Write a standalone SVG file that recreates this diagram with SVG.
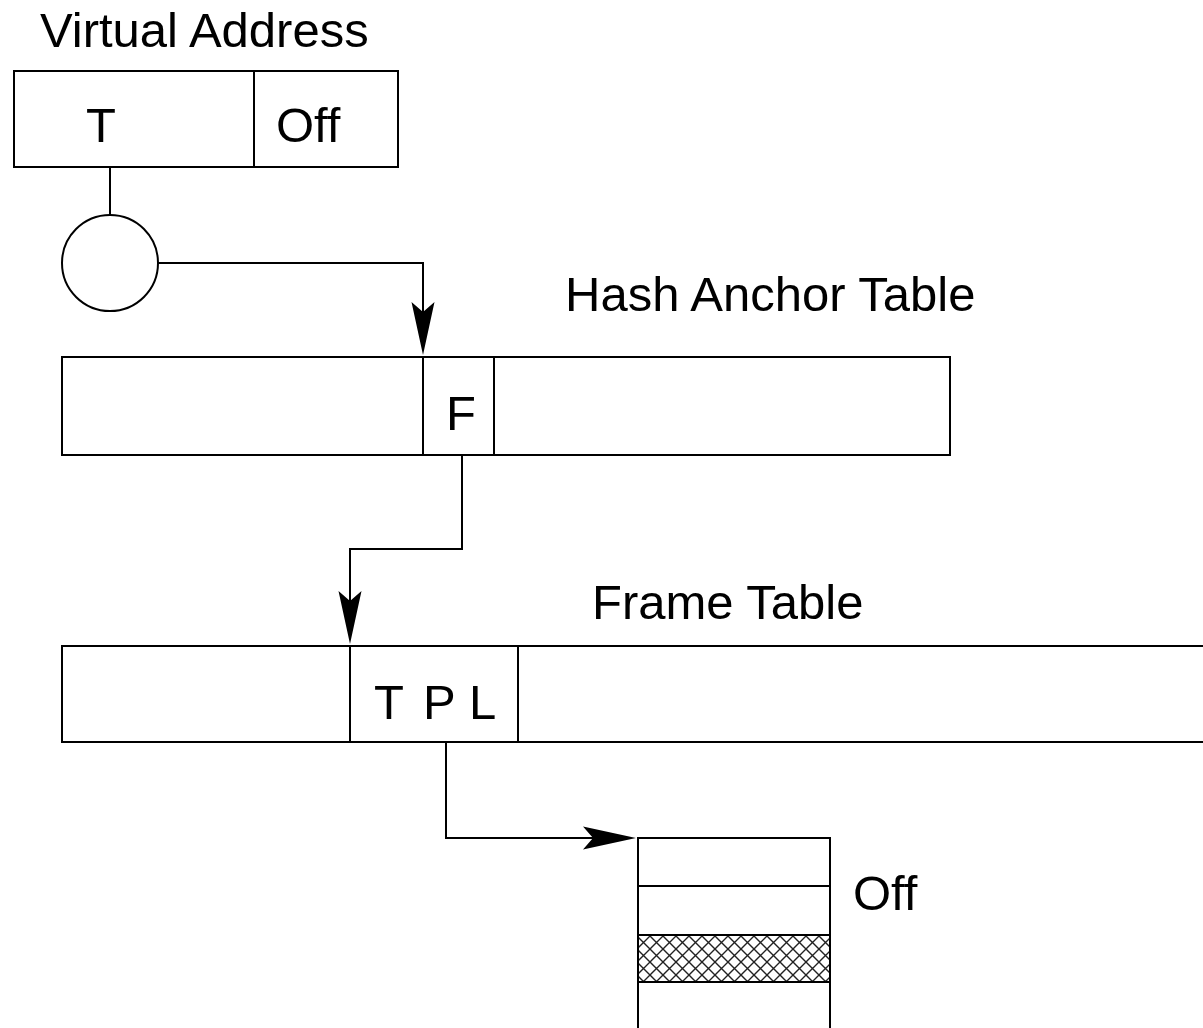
<svg xmlns="http://www.w3.org/2000/svg" width="1203" height="1028" viewBox="0 0 1203 1028">
<style>
.box{fill:none;stroke:#000;stroke-width:2}
.ln{fill:none;stroke:#000;stroke-width:2}
.conn{fill:none;stroke:#000;stroke-width:2}
text{font-family:"Liberation Sans",Arial,sans-serif;font-size:49px;fill:#000}
</style>
<defs>
<marker id="arr" markerUnits="userSpaceOnUse" viewBox="-11 -12 55 24" refX="0" refY="0" markerWidth="55" markerHeight="24" orient="auto" overflow="visible">
<path d="M43,0 L-10,-11.5 L0,0 L-10,11.5 Z" fill="#000"/>
</marker>
<pattern id="hatch" patternUnits="userSpaceOnUse" width="13" height="13">
<path d="M0,0 L13,13 M13,0 L0,13" stroke="#222" stroke-width="1.4"/>
</pattern>
</defs>
<rect width="1203" height="1028" fill="#fff"/>

<g id="virtual-address">
<text x="40" y="47">Virtual Address</text>
<rect class="box" x="14" y="71" width="384" height="96"/>
<line class="ln" x1="254" y1="71" x2="254" y2="167"/>
<text x="86" y="142">T</text>
<text x="276" y="142">Off</text>
</g>

<g id="hash-function">
<circle class="box" cx="110" cy="263" r="48"/>
</g>

<g id="hash-anchor-table">
<text x="565" y="311">Hash Anchor Table</text>
<rect class="box" x="62" y="357" width="888" height="98"/>
<line class="ln" x1="423" y1="357" x2="423" y2="455"/>
<line class="ln" x1="494" y1="357" x2="494" y2="455"/>
<text x="446" y="430">F</text>
</g>

<g id="frame-table">
<text x="592" y="619">Frame Table</text>
<rect class="box" x="62" y="646" width="1160" height="96"/>
<line class="ln" x1="350" y1="646" x2="350" y2="742"/>
<line class="ln" x1="518" y1="646" x2="518" y2="742"/>
<text x="374" y="719">T</text>
<text x="423" y="719">P</text>
<text x="469" y="719">L</text>
</g>

<g id="page">
<rect x="638" y="935" width="192" height="47" fill="url(#hatch)"/>
<rect class="box" x="638" y="838" width="192" height="210"/>
<line class="ln" x1="638" y1="886" x2="830" y2="886"/>
<line class="ln" x1="638" y1="935" x2="830" y2="935"/>
<line class="ln" x1="638" y1="982" x2="830" y2="982"/>
<text x="853" y="910">Off</text>
</g>

<g id="connectors">
<path class="conn" d="M110,167 V215"/>
<path class="conn" d="M158,263 H423 V312" marker-end="url(#arr)"/>
<path class="conn" d="M462,455 V549 H350 V601" marker-end="url(#arr)"/>
<path class="conn" d="M446,742 V838 H593" marker-end="url(#arr)"/>
</g>
</svg>
